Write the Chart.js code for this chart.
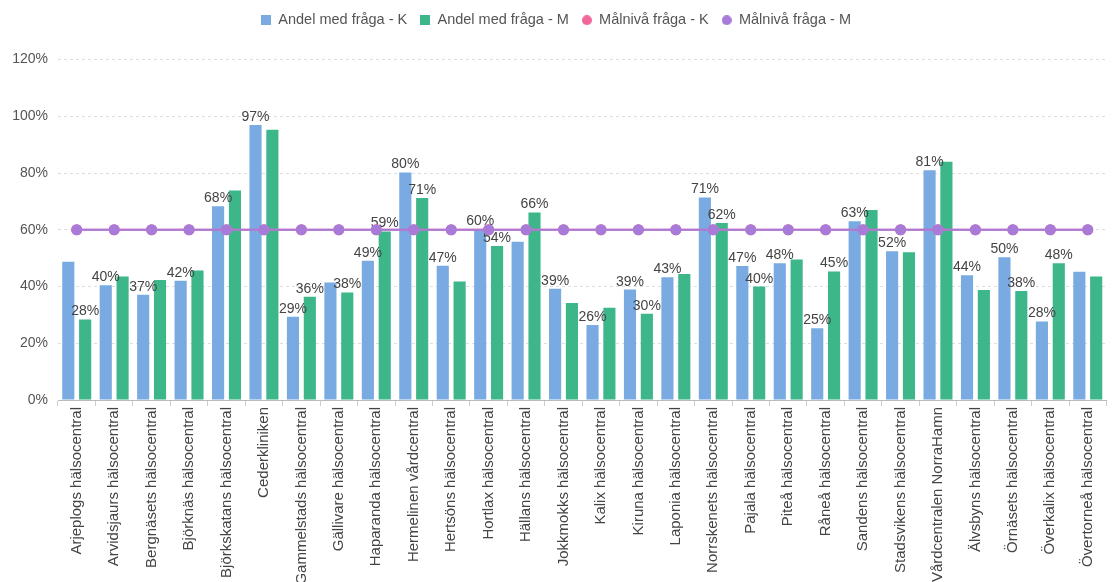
<!DOCTYPE html>
<html>
<head>
<meta charset="utf-8">
<script src="https://cdn.jsdelivr.net/npm/chart.js"></script>
<style>
  html, body { margin: 0; padding: 0; background: #fff; }
  #wrap { width: 1113px; height: 582px; }
</style>
</head>
<body>
<div id="wrap"><canvas id="myChart"></canvas></div>
<script>
const categories = [
  'Arjeplogs hälsocentral', 'Arvidsjaurs hälsocentral', 'Bergnäsets hälsocentral',
  'Björknäs hälsocentral', 'Björkskatans hälsocentral', 'Cederkliniken',
  'Gammelstads hälsocentral', 'Gällivare hälsocentral', 'Haparanda hälsocentral',
  'Hermelinen vårdcentral', 'Hertsöns hälsocentral', 'Hortlax hälsocentral',
  'Hällans hälsocentral', 'Jokkmokks hälsocentral', 'Kalix hälsocentral',
  'Kiruna hälsocentral', 'Laponia hälsocentral', 'Norrskenets hälsocentral',
  'Pajala hälsocentral', 'Piteå hälsocentral', 'Råneå hälsocentral',
  'Sandens hälsocentral', 'Stadsvikens hälsocentral', 'Vårdcentralen NorraHamn',
  'Älvsbyns hälsocentral', 'Örnäsets hälsocentral', 'Överkalix hälsocentral',
  'Övertorneå hälsocentral'
];

// Andel med fråga (%)
const andelK = [48.7, 40.4, 37.1, 42.0, 68.3, 96.9, 29.3, 41.4, 49.1, 80.2, 47.3, 60.3, 55.8, 39.2,
  26.4, 38.9, 43.3, 71.4, 47.2, 48.2, 25.3, 63.0, 52.4, 81.0, 44.0, 50.3, 27.7, 45.2];
const andelM = [28.4, 43.5, 42.3, 45.6, 73.8, 95.2, 36.4, 37.9, 59.4, 71.2, 41.8, 54.3, 66.1, 34.2,
  32.5, 30.4, 44.4, 62.4, 40.0, 49.5, 45.3, 67.0, 52.1, 84.0, 38.8, 38.4, 48.2, 43.5];

// Målnivå (%)
const malK = Array(categories.length).fill(60);
const malM = Array(categories.length).fill(60);

// which value labels are visible in the original (the rest were hidden by overlap)
const showK = [0,1,1,1,1,1,1,0,1,1,1,1,0,1,1,1,1,1,1,1,1,1,1,1,1,1,1,0];
const showM = [1,0,0,0,0,0,1,1,1,1,0,1,1,0,0,1,0,1,1,0,1,0,0,0,0,1,1,0];

const yTicks = [0, 20, 40, 60, 80, 100, 120];

const blue = '#79aae1';
const green = '#3db68a';
const pink = '#f0679b';
const purple = '#a97bd8';

const fontFamily = '"Liberation Sans", Arial, sans-serif';

function legendIcon(color, round) {
  const c = document.createElement('canvas');
  c.width = 10; c.height = 10;
  const g = c.getContext('2d');
  g.fillStyle = color;
  if (round) { g.beginPath(); g.arc(5, 5, 5, 0, Math.PI * 2); g.fill(); }
  else g.fillRect(0, 0, 10, 10);
  return c;
}
const icons = [legendIcon(blue, false), legendIcon(green, false), legendIcon(pink, true), legendIcon(purple, true)];

// legend takes more room above the plot than chart.js gives it
const legendSpace = {
  id: 'legendSpace',
  beforeInit(chart) {
    const fit = chart.legend.fit;
    chart.legend.fit = function () { fit.call(this); this.height += 22; };
  }
};

const valueLabels = {
  id: 'valueLabels',
  afterDatasetDraw(chart, args) {
    if (args.index !== 0) return;
    const ctx = chart.ctx;
    ctx.save();
    ctx.font = '14px ' + fontFamily;
    ctx.fillStyle = '#444';
    ctx.textAlign = 'center';
    ctx.textBaseline = 'alphabetic';
    [[0, showK], [1, showM]].forEach(([di, flags]) => {
      const meta = chart.getDatasetMeta(di);
      const vals = chart.data.datasets[di].data;
      meta.data.forEach((bar, i) => {
        if (!flags[i]) return;
        ctx.fillText(Math.round(vals[i]) + '%', bar.x, bar.y - 4);
      });
    });
    ctx.restore();
  }
};

const ctx = document.getElementById('myChart').getContext('2d');
new Chart(ctx, {
  type: 'bar',
  data: {
    labels: categories,
    datasets: [
      { label: 'Andel med fråga - K', data: andelK, backgroundColor: blue, order: 2,
        categoryPercentage: 0.9, barPercentage: 0.72 },
      { label: 'Andel med fråga - M', data: andelM, backgroundColor: green, order: 2,
        categoryPercentage: 0.9, barPercentage: 0.72 },
      { type: 'line', label: 'Målnivå fråga - K', data: malK, borderColor: pink, backgroundColor: pink,
        borderWidth: 2, pointRadius: 4.5, pointHoverRadius: 4.5, order: 1 },
      { type: 'line', label: 'Målnivå fråga - M', data: malM, borderColor: purple, backgroundColor: purple,
        borderWidth: 2, pointRadius: 4.5, pointHoverRadius: 4.5, order: 0 }
    ]
  },
  options: {
    responsive: true,
    maintainAspectRatio: false,
    animation: false,
    layout: { padding: { top: 0, right: 1, left: 0, bottom: 0 } },
    plugins: {
      tooltip: { enabled: false },
      legend: {
        position: 'top',
        labels: {
          usePointStyle: true,
          boxWidth: 10,
          boxHeight: 10,
          padding: 13,
          color: '#555',
          font: { family: fontFamily, size: 14.5 },
          generateLabels(chart) {
            const items = Chart.defaults.plugins.legend.labels.generateLabels(chart);
            items.sort((a, b) => a.datasetIndex - b.datasetIndex);
            items.forEach(it => { it.pointStyle = icons[it.datasetIndex]; });
            return items;
          }
        }
      }
    },
    scales: {
      x: {
        offset: true,
        grid: { display: true, drawOnChartArea: false, drawTicks: true, tickLength: 6, color: '#ccc', offset: true },
        border: { color: '#bbb' },
        ticks: {
          autoSkip: false, maxRotation: 90, minRotation: 90, padding: 1,
          color: '#444', font: { family: fontFamily, size: 15 }
        },
        afterFit(scale) { scale.height = 182; }
      },
      y: {
        min: 0, max: 120,
        afterBuildTicks(scale) { scale.ticks = yTicks.map(v => ({ value: v })); },
        grid: { color: '#ddd', drawTicks: false },
        border: { display: false, dash: [3, 3] },
        ticks: {
          padding: 10, color: '#555',
          font: { family: fontFamily, size: 14 },
          callback: v => v + '%'
        },
        afterFit(scale) { scale.width = 58; }
      }
    }
  },
  plugins: [legendSpace, valueLabels]
});
</script>
</body>
</html>
